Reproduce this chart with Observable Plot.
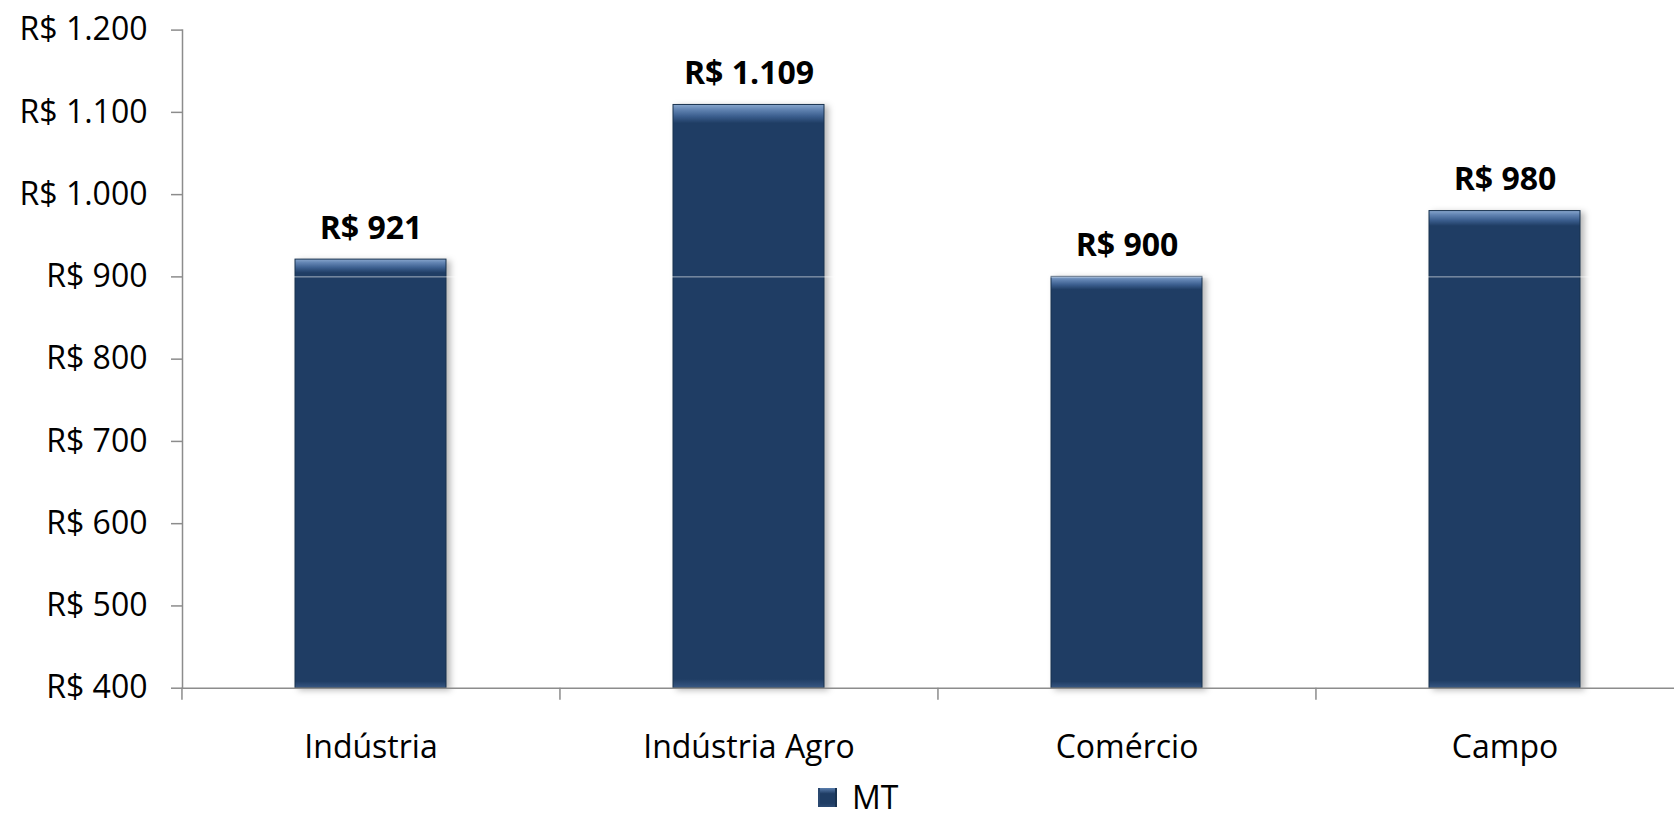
<!DOCTYPE html>
<html><head><meta charset="utf-8">
<script src="https://cdn.jsdelivr.net/npm/d3@7"></script>
<script src="https://cdn.jsdelivr.net/npm/@observablehq/plot@0.6"></script>
<style>
html,body{margin:0;padding:0;background:#fff;overflow:hidden;}
#chart svg{display:block;}
svg g[aria-label="bar"]{filter:drop-shadow(4px 2px 3px rgba(0,0,0,0.28));}
.legend{display:flex;align-items:center;height:32px;margin-top:1px;padding-left:818px;font-family:'Open Sans',sans-serif;font-size:32px;line-height:32px;color:#000;}
.legend .sw{width:19px;height:19px;margin-right:15px;background:linear-gradient(#5a7eae,#1f3d64 30%,#1f3d64 80%,#2c4b75);box-shadow:inset 2px 0 0 #2a4870,inset -2px 0 0 #183250;}
</style></head><body>
<div id="chart"></div>
<div class="legend" id="legend"></div>
<script>
const categories = ["Indústria", "Indústria Agro", "Comércio", "Campo"];
const values = [921, 1109, 900, 980];
const yTicks = [400, 500, 600, 700, 800, 900, 1000, 1100, 1200];
const gridValues = [900];
const seriesName = "MT";

const br = d3.formatLocale({decimal: ",", thousands: ".", grouping: [3], currency: ["R$ ", ""]});
const fmt = br.format("$,.0f");
const data = categories.map((c, i) => ({cat: c, value: values[i]}));

const W = 1674, H = 780;
const xRange = [181.7, 1694.1];
const step = (xRange[1] - xRange[0]) / categories.length;
const grey = "#8c8c8c";

const plot = Plot.plot({
  width: W, height: H,
  marginLeft: 182, marginRight: 0, marginTop: 29.6, marginBottom: H - 687.7,
  style: {fontFamily: "'Open Sans', sans-serif", fontSize: "32px", color: "#000", background: "#fff", overflow: "hidden"},
  x: {type: "band", domain: categories, range: xRange, paddingInner: 0.6, paddingOuter: 0.3, label: null},
  y: {domain: [yTicks[0], yTicks[yTicks.length - 1]], label: null},
  marks: [
    Plot.barY(data, {x: "cat", y1: yTicks[0], y2: "value", fill: "url(#barGrad)", stroke: "#18324f", strokeWidth: 1}),
    Plot.ruleY(gridValues, {stroke: "#fff", strokeOpacity: 0.6, strokeWidth: 1}),
    Plot.ruleY([yTicks[0]], {stroke: grey, strokeWidth: 1.5}),
    Plot.frame({anchor: "left", stroke: grey, strokeWidth: 1.5}),
    Plot.axisY({ticks: yTicks, tickSize: 11, tickPadding: 24, tickFormat: fmt, stroke: grey, strokeWidth: 1.5, fill: "#000", fontSize: 32}),
    Plot.axisX({tickSize: 12, tickFormat: () => "", dx: -step / 2, stroke: grey, strokeWidth: 1.5}),
    Plot.axisX({tickSize: 0, tickPadding: 47, fill: "#000", fontSize: 32}),
    Plot.text(data, {x: "cat", y: "value", text: d => fmt(d.value), dy: -31, fontWeight: "bold", fontSize: 32, fill: "#000"})
  ]
});

const defs = d3.select(plot).insert("defs", ":first-child");
const g = defs.append("linearGradient").attr("id", "barGrad").attr("x1", 0).attr("y1", 0).attr("x2", 0).attr("y2", 1);
[[0, "#8aa8ce"], [0.008, "#6486b4"], [0.02, "#3c5f8f"], [0.032, "#1f3d64"], [0.985, "#1f3d64"], [0.995, "#2f4e78"], [1, "#3a5a85"]]
  .forEach(([o, c]) => g.append("stop").attr("offset", o).attr("stop-color", c));

document.getElementById("chart").appendChild(plot);
const lg = document.getElementById("legend");
lg.innerHTML = '<span class="sw"></span><span></span>';
lg.lastChild.textContent = seriesName;
</script>
</body></html>
